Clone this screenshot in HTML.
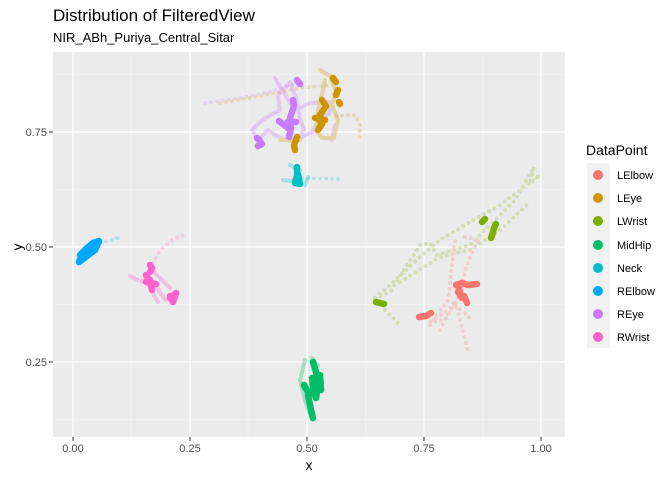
<!DOCTYPE html><html><head><style>
body{margin:0;background:#fff;font-family:"Liberation Sans",sans-serif}
</style></head><body>
<svg width="672" height="480" xmlns="http://www.w3.org/2000/svg" font-family="Liberation Sans, sans-serif">
<text x="53" y="21" font-size="17" fill="#000">Distribution of FilteredView</text>
<text x="53" y="42" font-size="13" fill="#000">NIR_ABh_Puriya_Central_Sitar</text>
<rect x="53" y="52" width="512" height="385" fill="#EBEBEB"/>
<g stroke="#F5F5F5" stroke-width="0.6">
<line x1="131" y1="52" x2="131" y2="437"/><line x1="248" y1="52" x2="248" y2="437"/><line x1="366" y1="52" x2="366" y2="437"/><line x1="483" y1="52" x2="483" y2="437"/>
<line x1="53" y1="74.5" x2="565" y2="74.5"/><line x1="53" y1="189.5" x2="565" y2="189.5"/><line x1="53" y1="304.5" x2="565" y2="304.5"/><line x1="53" y1="419.5" x2="565" y2="419.5"/>
</g>
<g stroke="#fff" stroke-width="1.2">
<line x1="73" y1="52" x2="73" y2="437"/><line x1="190" y1="52" x2="190" y2="437"/><line x1="307" y1="52" x2="307" y2="437"/><line x1="424" y1="52" x2="424" y2="437"/><line x1="541" y1="52" x2="541" y2="437"/>
<line x1="53" y1="132" x2="565" y2="132"/><line x1="53" y1="247" x2="565" y2="247"/><line x1="53" y1="362" x2="565" y2="362"/>
</g>
<g fill="none" stroke-linecap="round" stroke-linejoin="round">
<g stroke-width="4" opacity="0.22" stroke-dasharray="0 6">
<path d="M375 298 L390 292 L420 245 L430 243 L437 255 L470 245 L483 232 L515 200 L534 167 L530 183 L540 175 L500 205 L470 222 L440 240 L420 257 L390 285 L372 300" stroke="#7CAE00"/>
<path d="M400 282 L440 257 L470 250 L500 230 L527 205" stroke="#7CAE00"/>
<path d="M385 310 L400 325" stroke="#7CAE00"/>
<path d="M465 237 L480 240 L475 245 L465 270 L460 295 L445 320 L430 322 L440 315 L455 305 L470 318 M440 330 L455 300 L468 352" stroke="#F8766D"/>
<path d="M430 325 L448 300 L455 240" stroke="#F8766D"/>
<path d="M205 103 L240 98 L270 92 L300 82" stroke="#C77CFF"/>
<path d="M220 103 L260 96 L300 88 L330 85" stroke="#CD9600"/>
<path d="M336 116 L355 115 L360 125 L359 140" stroke="#CD9600"/>
<path d="M302 178 L340 179" stroke="#00BFC4"/>
<path d="M100 243 L118 238" stroke="#00A9FF"/>
<path d="M153 263 L160 250 L172 240 L186 234" stroke="#FF61CC"/>
</g>
<g stroke-width="4" opacity="0.3">
<path d="M258 140 L252 130 L262 120 L280 110 L278 95 L290 82 L296 98 L300 118 L304 130 L296 142 L280 138 L268 130 L258 140" stroke="#C77CFF"/>
<path d="M275 78 L285 95 L295 110 L310 103 L330 102 L330 113 L320 120 L312 132 L300 138 M335 125 L332 140" stroke="#C77CFF"/>
<path d="M320 70 L330 76 L336 92 L332 105 L338 120 L334 138 L322 138 L316 130 L318 110 L322 95 L325 80 M280 140 L300 140" stroke="#CD9600"/>
<path d="M130 276 L142 282 L150 272 M155 285 L165 300 L176 298 M152 292 L158 302 M150 268 L170 288" stroke="#FF61CC"/>
<path d="M290 165 L300 170 M283 180 L300 182 M308 177 L305 185" stroke="#00BFC4"/>
<path d="M305 360 L300 380 L305 400 L312 420 M312 358 L318 366" stroke="#00BE67"/>
</g>
<g stroke-width="6.5">
<path d="M80 255 L86 249 L93 243 L99 241 L95 250 L87 256 L79 262 L82 255 M84 258 L92 252" stroke="#00A9FF"/>
<path d="M146 275 L150 282 L152 290 L150 280 M150 272 L152 268 L150 265 M146 282 L156 284 M170 298 L176 293 L173 302 L170 296" stroke="#FF61CC"/>
<path d="M297 80 L300 84 M293 100 L294 106 L290 118 L291 128 L289 137 M288 122 L296 122 M279 121 L288 128 M257 138 L260 141 M262 144 L258 146" stroke="#C77CFF"/>
<path d="M333 78 L336 82 M338 90 L336 95 M322 100 L326 106 L318 118 L322 124 L318 130 M315 118 L325 120 M297 137 L294 145 L295 150 M339 102 L340 104" stroke="#CD9600"/>
<path d="M297 167 L297 176 L295 183 L300 184 L298 174" stroke="#00BFC4"/>
<path d="M313 362 L316 372 L318 385 L316 398 M320 375 L321 390 M308 395 L311 410 L313 418 M304 385 L308 392 M312 378 L314 395" stroke="#00BE67"/>
<path d="M456 285 L462 283 L468 285 L477 284 M458 292 L462 298 M464 296 L467 303 M458 285 L460 292" stroke="#F8766D"/>
<path d="M419 317 L426 316 L431 313" stroke="#F8766D"/>
<path d="M482 222 L485 219 M492 236 L494 228 L496 224 M491 238 L493 232" stroke="#7CAE00"/>
<path d="M376 302 L384 304" stroke="#7CAE00"/>
</g>
</g>
<g font-size="11" fill="#4D4D4D" text-anchor="end">
<text x="47" y="136">0.75</text><text x="47" y="251">0.50</text><text x="47" y="366">0.25</text>
</g>
<g stroke="#333" stroke-width="1"><line x1="49" y1="132" x2="53" y2="132"/><line x1="49" y1="247" x2="53" y2="247"/><line x1="49" y1="362" x2="53" y2="362"/>
<line x1="73" y1="437" x2="73" y2="441"/><line x1="190" y1="437" x2="190" y2="441"/><line x1="307" y1="437" x2="307" y2="441"/><line x1="424" y1="437" x2="424" y2="441"/><line x1="541" y1="437" x2="541" y2="441"/></g>
<g font-size="11" fill="#4D4D4D" text-anchor="middle">
<text x="73" y="452">0.00</text><text x="190" y="452">0.25</text><text x="307" y="452">0.50</text><text x="424" y="452">0.75</text><text x="541" y="452">1.00</text>
</g>
<text x="309" y="470" font-size="14" text-anchor="middle">x</text>
<text x="22" y="247" font-size="14" text-anchor="middle" transform="rotate(-90 22 247)">y</text>
<text x="586" y="155" font-size="14">DataPoint</text>
<rect x="587" y="163" width="23" height="185" fill="#F2F2F2"/>
<g>
<circle cx="598" cy="175" r="5" fill="#F8766D"/><circle cx="598" cy="198" r="5" fill="#CD9600"/><circle cx="598" cy="221" r="5" fill="#7CAE00"/><circle cx="598" cy="245" r="5" fill="#00BE67"/><circle cx="598" cy="268" r="5" fill="#00BFC4"/><circle cx="598" cy="291" r="5" fill="#00A9FF"/><circle cx="598" cy="314" r="5" fill="#C77CFF"/><circle cx="598" cy="337" r="5" fill="#FF61CC"/>
</g>
<g font-size="11" fill="#000">
<text x="617" y="179">LElbow</text><text x="617" y="202">LEye</text><text x="617" y="225">LWrist</text><text x="617" y="249">MidHip</text><text x="617" y="272">Neck</text><text x="617" y="295">RElbow</text><text x="617" y="318">REye</text><text x="617" y="341">RWrist</text>
</g>
</svg>
</body></html>
